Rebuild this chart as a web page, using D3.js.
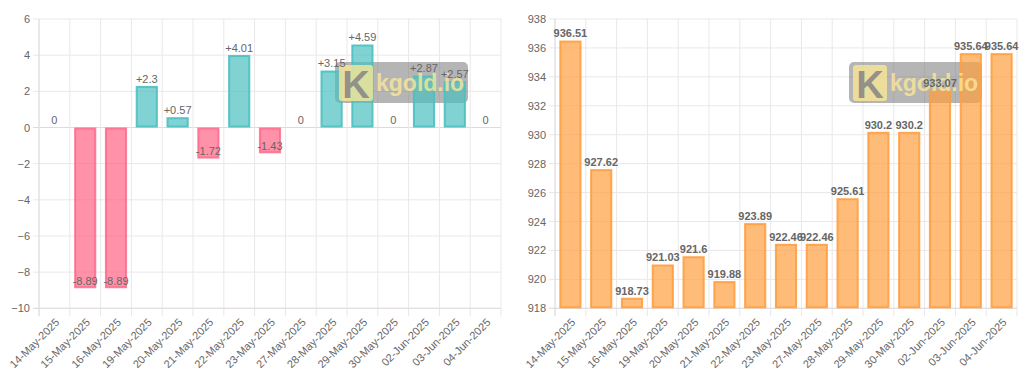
<!DOCTYPE html>
<html>
<head>
<meta charset="utf-8">
<script src="https://cdn.jsdelivr.net/npm/d3@7"></script>
<style>
  body { margin: 0; background: #fff; }
  svg { display: block; font-family: "Liberation Sans", Arial, Helvetica, sans-serif; }
</style>
</head>
<body>
<svg width="1024" height="384"></svg>
<script>
// data
const dates = ["14-May-2025","15-May-2025","16-May-2025","19-May-2025","20-May-2025","21-May-2025",
  "22-May-2025","23-May-2025","27-May-2025","28-May-2025","29-May-2025","30-May-2025",
  "02-Jun-2025","03-Jun-2025","04-Jun-2025"];
const changes = [0, -8.89, -8.89, 2.3, 0.57, -1.72, 4.01, -1.43, 0, 3.15, 4.59, 0, 2.87, 2.57, 0];
const prices = [936.51, 927.62, 918.73, 921.03, 921.6, 919.88, 923.89, 922.46, 922.46, 925.61,
  930.2, 930.2, 933.07, 935.64, 935.64];
const changeTicks = [-10, -8, -6, -4, -2, 0, 2, 4, 6];
const priceTicks = [918, 920, 922, 924, 926, 928, 930, 932, 934, 936, 938];

const svg = d3.select("svg");
const gridColor = "#ebe7e9";
const textColor = "#666";

function panel(opts) {
  const g = svg.append("g");
  const top = 19, bottom = 308.3;

  const xCat = d3.scaleBand().domain(dates).range([opts.left, opts.right]);
  const xBar = d3.scaleBand().domain(dates).range([opts.left, opts.right])
    .paddingInner(0.28).paddingOuter(0.14);
  const y = d3.scaleLinear().domain(opts.domain).range([bottom, top]);

  // horizontal grid
  g.selectAll(".hgrid").data(opts.ticks).enter().append("line")
    .attr("x1", opts.left - 6).attr("x2", opts.right)
    .attr("y1", d => y(d)).attr("y2", d => y(d))
    .attr("stroke", d => (d === 0 ? "#dcdcdc" : gridColor)).attr("stroke-width", 1);

  // vertical grid at category boundaries
  const bounds = dates.map(d => xCat(d)).concat([opts.right]);
  g.selectAll(".vgrid").data(bounds).enter().append("line")
    .attr("x1", d => d).attr("x2", d => d)
    .attr("y1", top).attr("y2", bottom + 8)
    .attr("stroke", gridColor).attr("stroke-width", 1);

  // axis lines
  g.append("line").attr("x1", opts.left).attr("x2", opts.left).attr("y1", top).attr("y2", bottom + 8)
    .attr("stroke", "#e0dcde");
  g.append("line").attr("x1", opts.left - 6).attr("x2", opts.right).attr("y1", bottom).attr("y2", bottom)
    .attr("stroke", "#e0dcde");

  // y labels
  const yAxis = g.append("g").attr("transform", `translate(${opts.left},0)`)
    .call(d3.axisLeft(y).tickValues(opts.ticks).tickSize(0).tickPadding(9));
  yAxis.select(".domain").remove();
  yAxis.selectAll("text").attr("fill", textColor).style("font-size", "11px")
    .style("font-family", "Liberation Sans, Arial, sans-serif");

  // x labels
  const xAxis = g.append("g").attr("transform", `translate(0,${bottom})`)
    .call(d3.axisBottom(xCat).tickSize(0));
  xAxis.select(".domain").remove();
  xAxis.selectAll("text")
    .attr("fill", textColor).style("font-size", "11px")
    .style("font-family", "Liberation Sans, Arial, sans-serif")
    .attr("text-anchor", "end")
    .attr("x", 0).attr("y", 0).attr("dy", "0.35em")
    .attr("transform", "translate(3,12) rotate(-45)");

  // watermark backing
  const wm = opts.watermark;
  g.append("rect").attr("x", wm.x).attr("y", wm.y).attr("width", 133).attr("height", 41)
    .attr("rx", 5).attr("fill", "rgba(120,120,120,0.55)");

  // bars
  g.selectAll(".bar").data(opts.values).enter().append("rect")
    .attr("x", (d, i) => xBar(dates[i]) + 1)
    .attr("width", xBar.bandwidth() - 2)
    .attr("y", d => Math.min(y(d), y(opts.base)) + 1)
    .attr("height", d => Math.max(0, Math.abs(y(d) - y(opts.base)) - 2))
    .attr("fill", d => opts.fill(d))
    .attr("stroke", d => opts.stroke(d))
    .attr("stroke-width", 2);

  // watermark foreground
  g.append("rect").attr("x", wm.x + 4).attr("y", wm.y + 3).attr("width", 34).attr("height", 36)
    .attr("rx", 3).attr("fill", "rgba(255,235,150,0.75)");
  g.append("text").attr("x", wm.x + 21).attr("y", wm.y + 36)
    .attr("text-anchor", "middle").attr("font-size", "38px").attr("font-weight", "bold")
    .attr("fill", "rgba(135,135,135,0.9)").text("K");
  g.append("text").attr("x", wm.x + 41).attr("y", wm.y + 29)
    .attr("font-size", "23px").attr("font-weight", "bold")
    .attr("fill", "rgba(255,235,150,0.75)").text("kgold.io");

  // value labels
  g.selectAll(".lbl").data(opts.values).enter().append("text")
    .attr("x", (d, i) => xCat(dates[i]) + xCat.bandwidth() / 2)
    .attr("y", d => y(d) - 7)
    .attr("dy", "0.35em")
    .attr("text-anchor", "middle")
    .attr("font-size", "11px")
    .attr("font-weight", opts.bold ? "bold" : "normal")
    .attr("fill", textColor)
    .text(d => opts.format(d));
}

panel({
  left: 39, right: 501,
  domain: [-10, 6], ticks: changeTicks, base: 0,
  values: changes,
  fill: d => (d < 0 ? "rgba(255,99,132,0.7)" : "rgba(75,192,192,0.7)"),
  stroke: d => (d < 0 ? "rgba(255,99,132,0.8)" : "rgba(75,192,192,0.9)"),
  format: d => (d > 0 ? "+" + d : String(d)),
  bold: false,
  watermark: { x: 335, y: 62 }
});

panel({
  left: 555, right: 1017,
  domain: [918, 938], ticks: priceTicks, base: 918,
  values: prices,
  fill: () => "rgba(255,159,64,0.7)",
  stroke: () => "rgba(255,159,64,0.9)",
  format: d => String(d),
  bold: true,
  watermark: { x: 849, y: 62 }
});
</script>
</body>
</html>
